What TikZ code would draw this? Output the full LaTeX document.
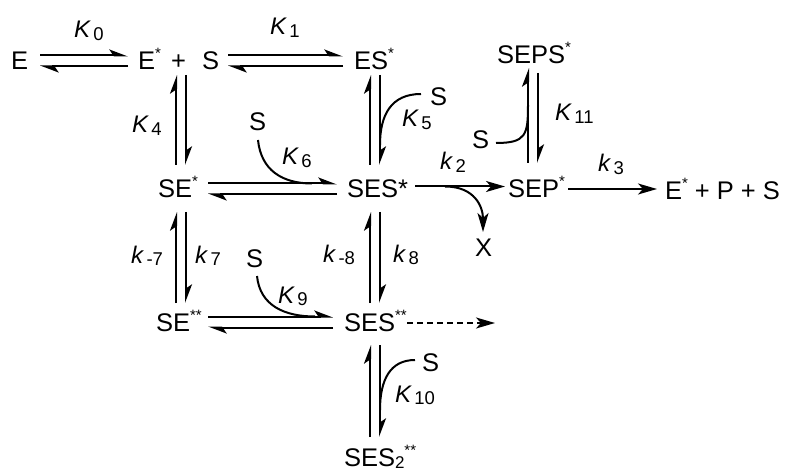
\documentclass[tikz,border=0pt]{standalone}
\usepackage{fontspec}
\setmainfont{Liberation Sans}
\usetikzlibrary{arrows.meta}
\newcommand\supst{\raisebox{11pt}{\fontsize{15}{15}\selectfont *}}
\newcommand\supss{\raisebox{11pt}{\fontsize{15}{15}\selectfont **}}
\newcommand\kk[2]{\textit{#1}\hspace{2.5pt}\raisebox{-2.5pt}{\fontsize{18.5}{18.5}\selectfont #2}}
\begin{document}
\begin{tikzpicture}[x=1pt,y=-1pt,
  t/.style={anchor=base west, inner sep=0pt, outer sep=0pt, font=\fontsize{25.5}{30}\selectfont},
  lb/.style={anchor=base west, inner sep=0pt, outer sep=0pt, font=\fontsize{24}{28}\selectfont},
  ln/.style={line width=2pt},
  hp/.style={ln, -{Stealth[harpoon,length=16pt,width=12pt,inset=4pt]}},
  fa/.style={ln, -{Stealth[length=19pt,width=11pt,inset=5pt]}},
]
\useasboundingbox (0,0) rectangle (789,470);
% species
\node[t] (E) at (11,70) {E};
\node[t] (Est) at (138,70) {E\supst};
\node[t] (plus) at (171,70) {+};
\node[t] (S1) at (202,70) {S};
\node[t] (ESt) at (354,70) {ES\supst};
\node[t] (SEPS) at (497,64) {SEPS\supst};
\node[t] (SEt) at (158,198) {SE\supst};
\node[t] (SESt) at (347,198) {SES*};
\node[t] (SEP) at (508,198) {SEP\supst};
\node[t] (prod) at (665,200) {E\supst\ + P + S};
\node[t] (X) at (475,257) {X};
\node[t] (SEss) at (156,331) {SE\supss};
\node[t] (SESss) at (344,331) {SES\supss};
\node[t] (SES2) at (344,466) {SES\raisebox{-2pt}{\fontsize{17}{17}\selectfont 2}\supss};
% substrate S
\node[t] (S6) at (249,131) {S};
\node[t] (S9) at (246,267) {S};
\node[t] (S5) at (430,106) {S};
\node[t] (S11) at (472,149) {S};
\node[t] (S10) at (422,371) {S};
% labels
\node[lb] (K0) at (74,38) {\kk{K}{0}};
\node[lb] (K1) at (270,35) {\kk{K}{1}};
\node[lb] (K4) at (132,133) {\kk{K}{4}};
\node[lb] (K5) at (402,127) {\kk{K}{5}};
\node[lb] (K6) at (282,165) {\kk{K}{6}};
\node[lb] (K9) at (278,303) {\kk{K}{9}};
\node[lb] (K10) at (395,402) {\kk{K}{10}};
\node[lb] (K11) at (555,121) {\kk{K}{11}};
\node[lb] (k2) at (440,170) {\kk{k}{2}};
\node[lb] (k3) at (598,172) {\kk{k}{3}};
\node[lb] (km7) at (131,263) {\kk{k}{-7}};
\node[lb] (k7) at (195,263) {\kk{k}{7}};
\node[lb] (km8) at (323,262) {\kk{k}{-8}};
\node[lb] (k8) at (393,262) {\kk{k}{8}};
% horizontal equilibria
\draw[hp] ([shift={(12,-14.5)}]E.base east) -- ([shift={(-10,-14.5)}]Est.base west);
\draw[hp] ([shift={(-10,-3.5)}]Est.base west) -- ([shift={(12,-3.5)}]E.base east);
\draw[hp] ([shift={(9,-14.5)}]S1.base east) -- ([shift={(-11,-14.5)}]ESt.base west);
\draw[hp] ([shift={(-11,-3.5)}]ESt.base west) -- ([shift={(9,-3.5)}]S1.base east);
\draw[hp] ([shift={(50,-14.5)}]SEt.base west) -- ([shift={(-10,-14.5)}]SESt.base west);
\draw[hp] ([shift={(-10,-3.5)}]SESt.base west) -- ([shift={(50,-3.5)}]SEt.base west);
\draw[hp] ([shift={(52,-14.5)}]SEss.base west) -- ([shift={(-11,-14.5)}]SESss.base west);
\draw[hp] ([shift={(-11,-3.5)}]SESss.base west) -- ([shift={(52,-3.5)}]SEss.base west);
% vertical equilibria
\draw[hp] ([shift={(18,-33)}]SEt.base west) -- ([shift={(5,5)}]plus.base west);
\draw[hp] ([shift={(15,5)}]plus.base west) -- ([shift={(28,-33)}]SEt.base west);
\draw[hp] ([shift={(23,-33)}]SESt.base west) -- ([shift={(16,5)}]ESt.base west);
\draw[hp] ([shift={(26,5)}]ESt.base west) -- ([shift={(33,-33)}]SESt.base west);
\draw[hp] ([shift={(20,-28)}]SEss.base west) -- ([shift={(18,14)}]SEt.base west);
\draw[hp] ([shift={(28,14)}]SEt.base west) -- ([shift={(30,-28)}]SEss.base west);
\draw[hp] ([shift={(26,-28)}]SESss.base west) -- ([shift={(23,14)}]SESt.base west);
\draw[hp] ([shift={(33,14)}]SESt.base west) -- ([shift={(36,-28)}]SESss.base west);
\draw[hp] ([shift={(26,-29)}]SES2.base west) -- ([shift={(26,14)}]SESss.base west);
\draw[hp] ([shift={(36,14)}]SESss.base west) -- ([shift={(36,-29)}]SES2.base west);
\draw[hp] ([shift={(20,-35)}]SEP.base west) -- ([shift={(31,4)}]SEPS.base west);
\draw[hp] ([shift={(41,9)}]SEPS.base west) -- ([shift={(30,-35)}]SEP.base west);
% irreversible steps
\draw[fa] ([shift={(68,-11.5)}]SESt.base west) -- ([shift={(-3,-11.5)}]SEP.base west);
\draw[fa] ([shift={(60,-9)}]SEP.base west) -- ([shift={(-8,-11)}]prod.base west);
\coordinate (br) at ([shift={(98,-11.5)}]SESt.base west);
\draw[fa] (br) .. controls +(30,0) and +(0,-25) .. ([shift={(8,-25)}]X.base west);
\coordinate (dend) at ([shift={(151,-8)}]SESss.base west);
\draw[fa, dashed, dash pattern=on 6pt off 4pt] ([shift={(63,-8)}]SESss.base west) -- (dend);
% substrate binding curves
\draw[ln] ([shift={(9,9)}]S6.base west) .. controls +(3,30) and +(-30,0) .. ([shift={(154,-14.5)}]SEt.base west);
\draw[ln] ([shift={(11,9)}]S9.base west) .. controls +(3,30) and +(-30,0) .. ([shift={(159,-14.5)}]SEss.base west);
\draw[ln] ([shift={(-9,-12)}]S5.base west) .. controls +(-30,0) and +(0,-30) .. ([shift={(33,-53)}]SESt.base west);
\draw[ln] ([shift={(24,-6)}]S11.base west) .. controls +(30,0) and +(0,30) .. ([shift={(20,-93)}]SEP.base west);
\draw[ln] ([shift={(-7,-11)}]S10.base west) .. controls +(-25,0) and +(0,-30) .. ([shift={(36,-56)}]SES2.base west);
\end{tikzpicture}
\end{document}
